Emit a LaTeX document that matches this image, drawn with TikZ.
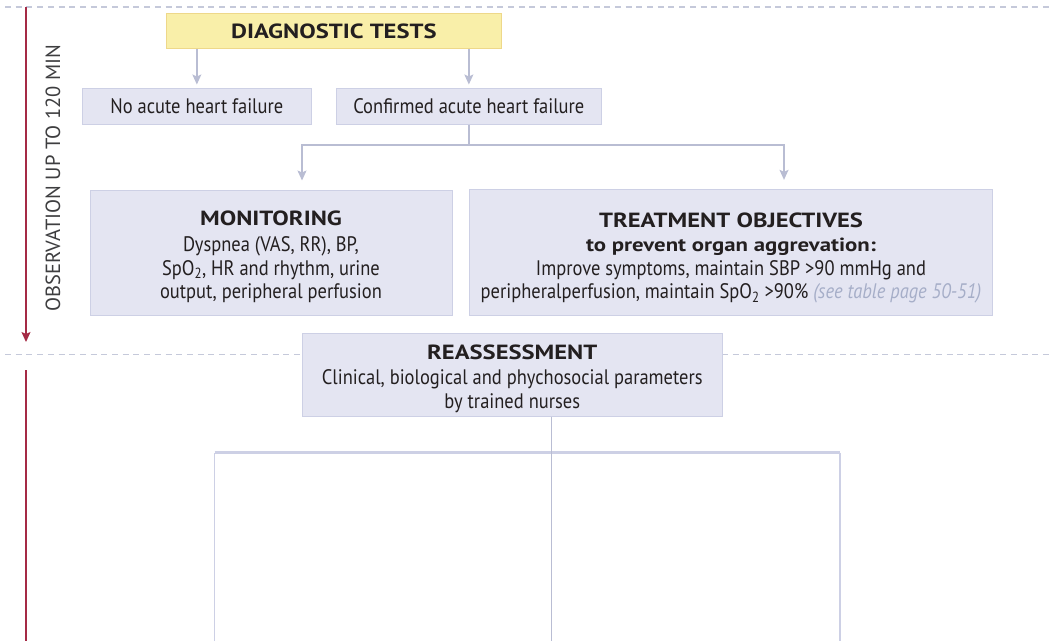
\documentclass[tikz,border=0pt]{standalone}
\usepackage{fontspec}
\setmainfont{PT Sans}[FakeStretch=0.88]
\newfontfamily\headfont{PT Sans Bold}[FakeStretch=1.2]
\newfontfamily\labelfont{PT Sans}
\usetikzlibrary{arrows.meta}

\definecolor{ink}{HTML}{231F20}
\definecolor{boxfill}{HTML}{E4E5F2}
\definecolor{boxline}{HTML}{CDD0E5}
\definecolor{yelfill}{HTML}{F9EFA9}
\definecolor{yelline}{HTML}{EED88A}
\definecolor{arrowgray}{HTML}{B9BDD3}
\definecolor{dashgray}{HTML}{C5C9DA}
\definecolor{timeline}{HTML}{A52A45}
\definecolor{linkgray}{HTML}{A6AEC8}
\definecolor{labelgray}{HTML}{3E3E40}

% heading lines; the optional strut height lowers the text block in its box
\newcommand{\headline}[2][0pt]{\rule{0pt}{#1}{\headfont\fontsize{20.5}{23.7}\selectfont #2}}
\newcommand{\subhead}[1]{{\headfont\fontsize{19}{23.7}\selectfont #1}}

\tikzset{
  every node/.style={text=ink},
  basebox/.style={draw=boxline, fill=boxfill, line width=1pt, inner sep=0pt,
    align=center, font=\fontsize{21}{23.7}\selectfont},
  headbox/.style={draw=yelline, fill=yelfill, line width=1pt, inner sep=0pt,
    align=center, font=\headfont\fontsize{20.5}{23.7}\selectfont},
  flow/.style={draw=arrowgray, line width=1.3pt,
    -{Stealth[length=10pt,width=9pt,inset=2pt]}},
  plainflow/.style={draw=arrowgray, line width=1.3pt},
  phase/.style={draw=dashgray, line width=1.3pt, dash pattern=on 6pt off 4.7pt},
  timeflow/.style={draw=timeline, line width=1.3pt,
    -{Stealth[length=10pt,width=9pt,inset=2pt]}},
}

\begin{document}
\begin{tikzpicture}[x=1pt, y=-1pt]
\useasboundingbox (0,0) rectangle (1051,641);

% phase separators
\coordinate (topL) at (5,7);
\coordinate (topR) at (1051,7);
\coordinate (midL) at (5,354.5);
\coordinate (midR) at (1051,354.5);
\draw[phase] (topL) -- (topR);
\draw[phase] (midL) -- (midR);

% time axis
\coordinate (t0) at (26,7);
\coordinate (t1) at (26,342);
\coordinate (t2) at (26,370);
\coordinate (t3) at (26,641);
\draw[timeflow] (t0) -- (t1);
\draw[draw=timeline, line width=1.3pt] (t2) -- (t3);
\node[rotate=90, text=labelgray, font=\labelfont\fontsize{20.5}{22}\selectfont] (phaselabel)
  at (53,178) {OBSERVATION UP TO 120 MIN};

% boxes
\node[headbox, minimum width=335.7pt, minimum height=35.7pt] (diag)
  at (333.85,30.85) {DIAGNOSTIC TESTS};
\node[basebox, minimum width=229.7pt, minimum height=36pt] (noahf)
  at (196.85,106) {No acute heart failure};
\node[basebox, minimum width=264.3pt, minimum height=36pt] (cahf)
  at (468.85,106) {Confirmed acute heart failure};
\node[basebox, minimum width=362pt, minimum height=125pt] (mon)
  at (271,252.5) {\headline[24pt]{MONITORING}\\[2pt]
  Dyspnea (VAS, RR), BP,\\
  SpO\textsubscript{2}, HR and rhythm, urine\\
  output, peripheral perfusion};
\node[basebox, minimum width=523.2pt, minimum height=125.7pt] (treat)
  at (731,252.2) {\headline[27pt]{TREATMENT OBJECTIVES}\\
  \subhead{to prevent organ aggrevation:}\\
  Improve symptoms, maintain SBP >90 mmHg and\\
  peripheralperfusion, maintain SpO\textsubscript{2} >90\% {\itshape\color{linkgray}(see table page 50-51)}};
\node[basebox, minimum width=420.5pt, minimum height=83pt] (reass)
  at (512.25,374.5) {\headline[23pt]{REASSESSMENT}\\[1pt]
  Clinical, biological and phychosocial parameters\\
  by trained nurses};

% connectors
\draw[flow, shorten >=3pt] (diag.south -| noahf) -- (noahf.north);
\draw[flow, shorten >=3pt] (diag.south -| cahf) -- (cahf.north);
\coordinate (split) at (468.85,145);
\draw[plainflow] (cahf.south) -- (split);
\draw[flow, shorten >=9pt] (split) -| ([xshift=31pt]mon.north);
\draw[flow, shorten >=9pt] (split) -| ([xshift=53pt]treat.north);

% outcome frame below reassessment
\coordinate (frameBL) at (214.5,641);
\coordinate (frameTL) at (214.5,452.5);
\coordinate (frameTR) at (840,452.5);
\coordinate (frameBR) at (840,641);
\draw[draw=boxline, line width=1.2pt] (frameBL) -- (frameTL);
\draw[draw=boxline, line width=1.2pt] (frameTR) -- (frameBR);
\draw[draw=boxline, line width=2.6pt] (frameTL) -- (frameTR);
\coordinate (reassEnd) at (551.5,641);
\draw[plainflow] ([xshift=39.25pt]reass.south) -- (reassEnd);
\end{tikzpicture}
\end{document}
